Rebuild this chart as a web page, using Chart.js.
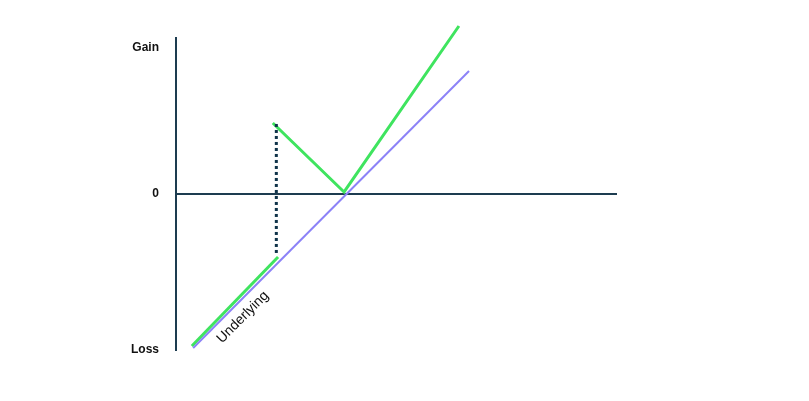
<!DOCTYPE html>
<html>
<head>
<meta charset="utf-8">
<script src="https://cdn.jsdelivr.net/npm/chart.js@4.4.0/dist/chart.umd.min.js"></script>
<style>
  html, body { margin: 0; padding: 0; background: #fff; }
  #wrap { width: 809px; height: 401px; position: relative; }
</style>
</head>
<body>
<div id="wrap"><canvas id="payoffChart"></canvas></div>
<script>
// payoff diagram, x = underlying price (0..100), y = profit (-100..100)
const underlyingX = [3.9, 66.6];
const underlyingY = [-98.7, 78.8];

const lowerLegX = [3.6, 23.2];
const lowerLegY = [-97.4, -40.4];

const gapX = [22.8, 22.8];
const gapY = [-37.8, 44.9];

const upperLegX = [22.0, 38.2, 64.3];
const upperLegY = [45.5, 1.3, 107.7];

const yTickValues = [-100, 0, 94];
const yTickLabels = ['Loss', '0', 'Gain'];

const lineLabel = { text: 'Underlying', x: 15.2, y: -79, angle: -45 };

const GREEN = '#3fe45f';
const PURPLE = '#8c82f7';
const AXIS = '#1d3c50';
const DOTS = '#0f3349';

function toPoints(xs, ys) {
    return xs.map((x, i) => ({ x: x, y: ys[i] }));
}

const labelPlugin = {
    id: 'lineLabel',
    afterDatasetsDraw(chart) {
        const ctx = chart.ctx;
        const px = chart.scales.x.getPixelForValue(lineLabel.x);
        const py = chart.scales.y.getPixelForValue(lineLabel.y);
        ctx.save();
        ctx.translate(px, py);
        ctx.rotate(lineLabel.angle * Math.PI / 180);
        ctx.font = '14px "Liberation Sans", Arial, sans-serif';
        ctx.fillStyle = '#111';
        ctx.textAlign = 'center';
        ctx.textBaseline = 'middle';
        ctx.fillText(lineLabel.text, 0, 0);
        ctx.restore();
    }
};

const ctx = document.getElementById('payoffChart').getContext('2d');
new Chart(ctx, {
    type: 'line',
    data: {
        datasets: [
            {
                label: 'Underlying',
                data: toPoints(underlyingX, underlyingY),
                borderColor: PURPLE,
                borderWidth: 2,
                pointRadius: 0,
                clip: false
            },
            {
                label: 'Lower leg',
                data: toPoints(lowerLegX, lowerLegY),
                borderColor: GREEN,
                borderWidth: 3,
                pointRadius: 0,
                clip: false
            },
            {
                label: 'Gap',
                data: toPoints(gapX, gapY),
                borderColor: DOTS,
                borderWidth: 3,
                borderDash: [3, 3],
                borderCapStyle: 'butt',
                pointRadius: 0,
                clip: false
            },
            {
                label: 'Upper leg',
                data: toPoints(upperLegX, upperLegY),
                borderColor: GREEN,
                borderWidth: 3,
                pointRadius: 0,
                clip: false
            }
        ]
    },
    options: {
        responsive: true,
        maintainAspectRatio: false,
        animation: false,
        layout: { padding: { left: 0, right: 193, top: 38, bottom: 51 } },
        plugins: {
            legend: { display: false },
            tooltip: { enabled: false }
        },
        scales: {
            x: {
                type: 'linear',
                min: 0,
                max: 100,
                position: { y: 0 },
                grid: { display: false, drawTicks: false },
                border: { display: true, color: AXIS, width: 2 },
                ticks: { display: false },
                afterFit(scale) { scale.height = 0; }
            },
            y: {
                type: 'linear',
                min: -100,
                max: 100,
                grid: { display: false, drawTicks: false },
                border: { display: true, color: AXIS, width: 2 },
                afterBuildTicks(scale) {
                    scale.ticks = yTickValues.map(v => ({ value: v }));
                },
                afterFit(scale) { scale.width = 176; },
                ticks: {
                    padding: 17,
                    color: '#111',
                    font: { family: '"Liberation Sans", Arial, sans-serif', size: 12, weight: 'bold' },
                    callback: function(value) {
                        const i = yTickValues.indexOf(value);
                        return i >= 0 ? yTickLabels[i] : '';
                    }
                }
            }
        }
    },
    plugins: [labelPlugin]
});
</script>
</body>
</html>
